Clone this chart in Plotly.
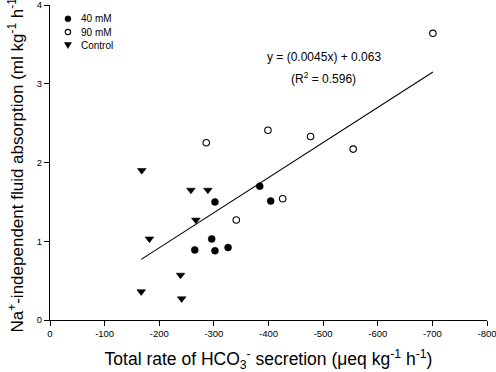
import plotly.graph_objects as go

# 40 mM (filled circles)
x40 = [-302, -296, -265, -302, -326, -384, -404]
y40 = [1.50, 1.03, 0.89, 0.88, 0.92, 1.70, 1.51]
# 90 mM (open circles)
x90 = [-286, -341, -399, -477, -555, -701, -426]
y90 = [2.25, 1.27, 2.41, 2.33, 2.17, 3.64, 1.54]
# Control (down triangles)
xc = [-167, -182, -239, -241, -258, -289, -267, -168]
yc = [0.36, 1.03, 0.57, 0.27, 1.65, 1.65, 1.27, 1.90]
# regression line endpoints
line_x = [-167, -701]
line_y = [0.77, 3.15]

xticks = [0, -100, -200, -300, -400, -500, -600, -700, -800]
yticks = [0, 1, 2, 3, 4]
legend_labels = ["40 mM", "90 mM", "Control"]

FONT = "Liberation Sans, Arial, sans-serif"

fig = go.Figure()
fig.add_trace(go.Scatter(x=x40, y=y40, mode="markers", name=legend_labels[0], showlegend=False,
                         marker=dict(symbol="circle", size=7, color="black",
                                     line=dict(color="black", width=0.5))))
fig.add_trace(go.Scatter(x=x90, y=y90, mode="markers", name=legend_labels[1], showlegend=False,
                         marker=dict(symbol="circle-open", size=6.5, color="black",
                                     line=dict(color="black", width=1.1))))
fig.add_trace(go.Scatter(x=xc, y=yc, mode="markers", name=legend_labels[2], showlegend=False,
                         marker=dict(symbol="triangle-down", size=7.5, color="black",
                                     line=dict(color="black", width=0.6))))
fig.add_trace(go.Scatter(x=line_x, y=line_y, mode="lines", showlegend=False,
                         line=dict(color="black", width=1.1)))

fig.add_annotation(x=-501, y=3.34, text="y = (0.0045x) + 0.063", showarrow=False,
                   font=dict(family=FONT, size=12, color="black"))
fig.add_annotation(x=-501, y=3.07, text="(R<sup>2</sup> = 0.596)", showarrow=False,
                   font=dict(family=FONT, size=12, color="black"))

# manual legend (compact spacing as in reference)
leg_x = 0.041
leg_y = [0.956, 0.914, 0.873]
shapes = []
shapes.append(dict(type="circle", xref="paper", yref="paper", xsizemode="pixel", ysizemode="pixel",
                   xanchor=leg_x, yanchor=leg_y[0], x0=-3, x1=3, y0=-3, y1=3,
                   fillcolor="black", line=dict(color="black", width=0.5)))
shapes.append(dict(type="circle", xref="paper", yref="paper", xsizemode="pixel", ysizemode="pixel",
                   xanchor=leg_x, yanchor=leg_y[1], x0=-2.7, x1=2.7, y0=-2.7, y1=2.7,
                   fillcolor="white", line=dict(color="black", width=1.1)))
shapes.append(dict(type="path", xref="paper", yref="paper", xsizemode="pixel", ysizemode="pixel",
                   xanchor=leg_x, yanchor=leg_y[2], path="M -3.5,2.5 L 3.5,2.5 L 0,-3.5 Z",
                   fillcolor="black", line=dict(color="black", width=0.5)))
for lbl, ly in zip(legend_labels, leg_y):
    fig.add_annotation(x=leg_x, y=ly, xref="paper", yref="paper", xshift=11,
                       text=lbl, showarrow=False, xanchor="left", yanchor="middle",
                       font=dict(family=FONT, size=10, color="black"))

fig.update_layout(
    width=496, height=372,
    margin=dict(l=50, r=9, t=5, b=52, autoexpand=False),
    paper_bgcolor="white", plot_bgcolor="white",
    font=dict(family=FONT, color="black"),
    showlegend=False,
    shapes=shapes,
    xaxis=dict(range=[0, -800], tickvals=xticks, ticktext=[str(t) for t in xticks],
               showgrid=False, zeroline=False, showline=True, linecolor="black",
               linewidth=1, ticks="outside", ticklen=5, tickcolor="black",
               tickfont=dict(size=9.5), automargin=False, ticklabeloverflow="allow",
               title=dict(text="Total rate of HCO<sub>3</sub><sup>-</sup> secretion (μeq kg<sup>-1</sup> h<sup>-1</sup>)",
                          font=dict(size=17.5), standoff=17)),
    yaxis=dict(range=[0, 4], tickvals=yticks, showgrid=False, zeroline=False,
               showline=True, linecolor="black", linewidth=1, ticks="outside",
               ticklen=5, tickcolor="black", tickfont=dict(size=9.5), automargin=False,
               ticklabeloverflow="allow",
               title=dict(text="Na<sup>+</sup>-independent fluid absorption (ml kg<sup>-1</sup> h<sup>-1</sup>)",
                          font=dict(size=17), standoff=8)),
)

fig.write_html("out.html", config={"displayModeBar": False},
               post_script="document.body.style.margin='0';document.body.style.padding='0';")
